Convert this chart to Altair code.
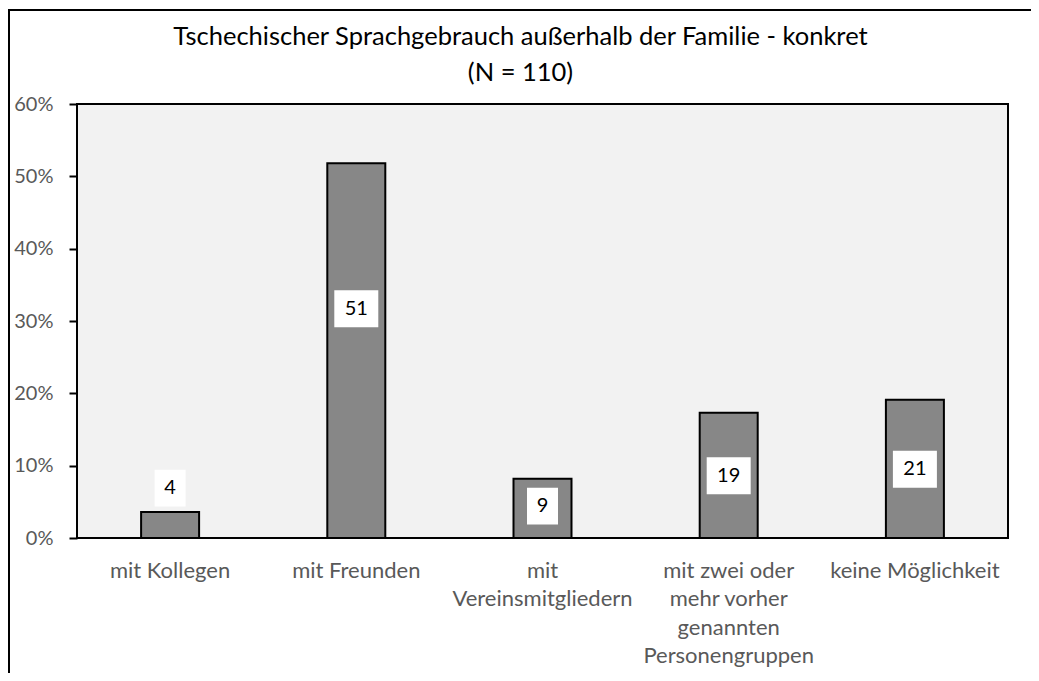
import altair as alt
import pandas as pd

# ---- data ----
categories = [
    "mit Kollegen",
    "mit Freunden",
    "mit\nVereinsmitgliedern",
    "mit zwei oder\nmehr vorher\ngenannten\nPersonengruppen",
    "keine Möglichkeit",
]
percent = [3.6, 51.8, 8.2, 17.3, 19.1]       # bar heights in %
counts = [4, 51, 9, 19, 21]                    # data labels
label_pos = [6.9, 31.7, 4.4, 8.6, 9.5]         # where each label sits (in %)
y_ticks = [0, 10, 20, 30, 40, 50, 60]
title_lines = ["Tschechischer Sprachgebrauch außerhalb der Familie - konkret", "(N = 110)"]

df = pd.DataFrame({"cat": categories, "pct": percent, "n": counts, "lpos": label_pos})

FONT = "Lato"
GREY = "#595959"
W, H = 931, 434

x_axis = alt.Axis(
    title=None, labelAngle=0, ticks=False, domain=False,
    labelExpr="split(datum.label, '\\n')",
    labelFont=FONT, labelFontSize=22, labelColor=GREY,
    labelLineHeight=28.5, labelPadding=22, labelBaseline="top",
    labelLimit=0,
)
x_scale = alt.Scale(domain=categories, paddingInner=0, paddingOuter=0)
y_scale = alt.Scale(domain=[0, 60], nice=False)
y_axis = alt.Axis(
    title=None, values=y_ticks, labelExpr="datum.value + '%'",
    grid=False, domain=False, tickColor="black", tickWidth=2, tickSize=8,
    labelPadding=16, labelFont=FONT, labelFontSize=20, labelColor=GREY,
)

bars = alt.Chart(df).mark_bar(color="#878787", stroke="black", strokeWidth=2, size=58).encode(
    x=alt.X("cat:N", sort=categories, scale=x_scale, axis=x_axis),
    y=alt.Y("pct:Q", scale=y_scale, axis=y_axis),
)

boxes = alt.Chart(df).transform_calculate(
    lo="datum.lpos - 2.55",
    hi="datum.lpos + 2.55",
    bw="length(toString(datum.n)) > 1 ? 44 : 31",
).mark_bar(color="white").encode(
    x=alt.X("cat:N", sort=categories, scale=x_scale, axis=x_axis),
    y=alt.Y("lo:Q", scale=y_scale, axis=y_axis),
    y2="hi:Q",
    size=alt.Size("bw:Q", scale=None, legend=None),
)

labels = alt.Chart(df).mark_text(font=FONT, fontSize=20, color="black", baseline="middle").encode(
    x=alt.X("cat:N", sort=categories, scale=x_scale, axis=x_axis),
    y=alt.Y("lpos:Q", scale=y_scale, axis=y_axis),
    text="n:Q",
)

frame = alt.Chart(alt.Data(values=[{"a": 1}])).mark_rect(
    fillOpacity=0, stroke="black", strokeWidth=2
).encode(
    x=alt.value(-68), x2=alt.value(1200), y=alt.value(-94), y2=alt.value(1000)
)

chart = alt.layer(frame, bars, boxes, labels).properties(
    width=W,
    height=H,
    title=alt.TitleParams(
        text=title_lines, font=FONT, fontSize=25.5, fontWeight="normal", color="black",
        anchor="middle", frame="group", dx=-22, offset=-77, lineHeight=36,
    ),
    autosize=alt.AutoSizeParams(type="none"),
    padding={"left": 69, "top": 96, "right": 23, "bottom": 135},
    background="white",
).configure_view(
    stroke="black", strokeWidth=2, fill="#F2F2F2"
)

chart.save("out.html", embed_options={"renderer": "svg", "actions": False})
